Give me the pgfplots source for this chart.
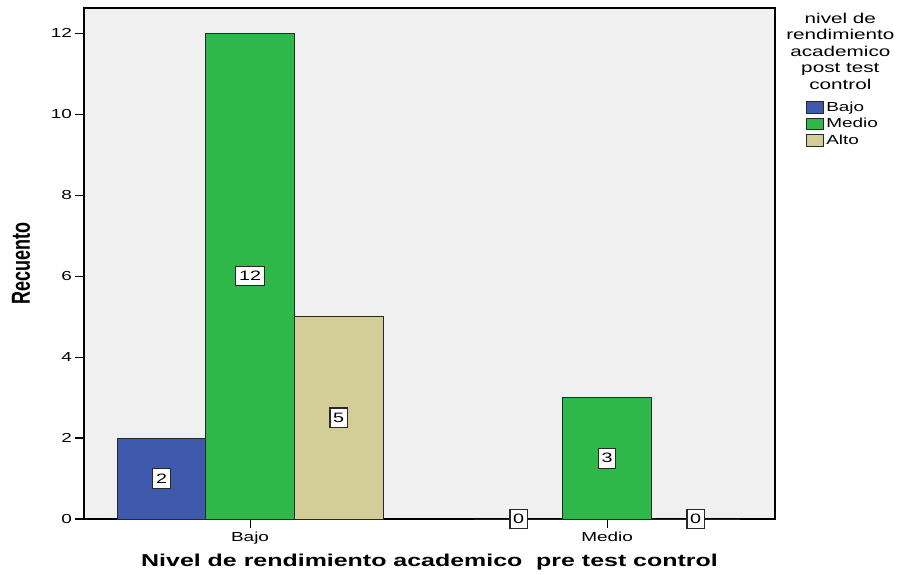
\documentclass[border=0pt]{standalone}
\usepackage{pgfplots}
\usepackage{pgfplotstable}
\pgfplotsset{compat=1.18}
\usepackage{fontspec}
\setmainfont{Liberation Sans}[FakeStretch=1.45]
\newfontfamily\plainsans{Liberation Sans}

\definecolor{cBajo}{RGB}{62,88,172}
\definecolor{cMedio}{RGB}{46,184,74}
\definecolor{cAlto}{RGB}{211,206,151}
\definecolor{bg}{RGB}{240,240,240}
\definecolor{edge}{RGB}{40,40,40}

\pgfplotstableread{
cat bajo medio alto
0 2 12 5
1 0 3 0
}\datatab

\begin{document}
\begin{tikzpicture}
\begin{axis}[
  name=ax,
  scale only axis,
  width=518.25pt, height=383.25pt,
  xmin=-0.465, xmax=1.47,
  ymin=0, ymax=12.62,
  clip=false,
  axis background/.style={fill=bg},
  axis line style={black, line width=0.8pt},
  xtick={0,1}, xticklabels={Bajo,Medio},
  ytick={0,2,4,6,8,10,12},
  tick align=outside,
  xtick pos=left, ytick pos=left,
  major tick length=6.5pt,
  tick style={black, line width=0.8pt},
  ticklabel style={font=\fontsize{9.8}{11}\selectfont},
  yticklabel style={xshift=1pt},
  /pgf/number format/assume math mode=true,
  xlabel={\fontsize{12.9}{14}\selectfont Nivel de rendimiento academico\ \ pre test control},
  ylabel={\scalebox{1}[1.45]{\plainsans\bfseries\fontsize{13.5}{15}\selectfont Recuento}},
  every axis x label/.style={at={(axis description cs:0.5,-0.0841)}, anchor=center, font=\bfseries},
  every axis y label/.style={at={(axis description cs:-0.0912,0.5)}, rotate=90, anchor=center},
  legend image code/.code={\draw[#1] (0pt,-4.4pt) rectangle (12.5pt,4.4pt);},
  legend style={at={(axis description cs:1.0449,0.822)}, anchor=north west, draw=none, fill=none, inner sep=0pt, font=\fontsize{9.8}{11}\selectfont, row sep=0pt, nodes={inner sep=1.9pt}, cells={anchor=west}},
  labbox/.style={forget plot, draw=none, mark=none, nodes near coords, point meta=explicit symbolic,
    every node near coord/.append style={anchor=center, fill=white, draw=edge, line width=0.9pt, inner xsep=2.4pt, inner ysep=3.8pt, text=black, font=\fontsize{10.2}{11}\selectfont}},
  barsty/.style={forget plot, ybar, bar width=0.248, bar shift=0pt, draw=edge, line width=0.6pt},
]
\addplot[barsty, fill=cBajo] table[x expr=\thisrow{cat}-0.248, y=bajo]{\datatab};
\addplot[barsty, fill=cMedio] table[x expr=\thisrow{cat}, y=medio]{\datatab};
\addplot[barsty, fill=cAlto] table[x expr=\thisrow{cat}+0.248, y=alto]{\datatab};

\addplot[labbox] table[x expr=\thisrow{cat}-0.248, y expr=\thisrow{bajo}/2, meta=bajo]{\datatab};
\addplot[labbox] table[x expr=\thisrow{cat}, y expr=\thisrow{medio}/2, meta=medio]{\datatab};
\addplot[labbox] table[x expr=\thisrow{cat}+0.248, y expr=\thisrow{alto}/2, meta=alto]{\datatab};

\addlegendimage{fill=cBajo, draw=edge, line width=0.6pt}
\addlegendentry{Bajo}
\addlegendimage{fill=cMedio, draw=edge, line width=0.6pt}
\addlegendentry{Medio}
\addlegendimage{fill=cAlto, draw=edge, line width=0.6pt}
\addlegendentry{Alto}
\end{axis}
\node[anchor=north, align=center, font=\fontsize{10.7}{12.4}\selectfont, inner sep=0pt] at ([xshift=49pt, yshift=-3.5pt]ax.north east) {nivel de\\rendimiento\\academico\\post test\\control};
\path[use as bounding box] ([xshift=-63pt, yshift=-40.5pt]ax.south west) rectangle ([xshift=94.5pt, yshift=6pt]ax.north east);
\end{tikzpicture}
\end{document}
